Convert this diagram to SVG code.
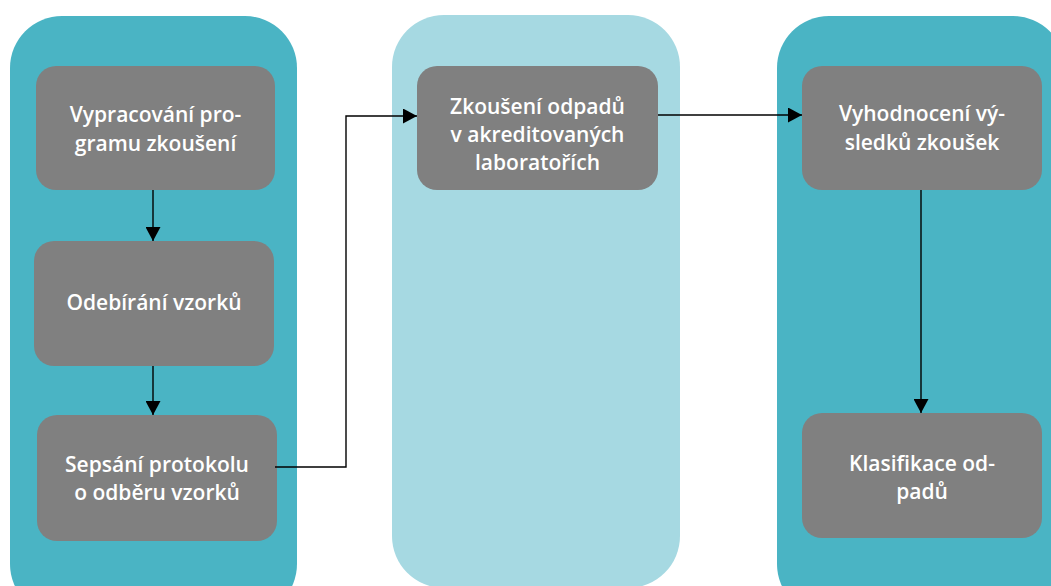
<svg xmlns="http://www.w3.org/2000/svg" width="1051" height="586" viewBox="0 0 1051 586">
<style>
.lane-dark{fill:#4ab4c4}
.lane-light{fill:#a6d9e2}
.node rect{fill:#808080}
.node text{fill:#ffffff;font-family:"Open Sans","Liberation Sans",sans-serif;font-weight:600;font-size:21px;text-anchor:middle}
.conn{fill:none;stroke:#000;stroke-width:1.4}
</style>
<defs>
<marker id="arr" viewBox="0 0 14 15" refX="14" refY="7.5" markerWidth="14" markerHeight="15" markerUnits="userSpaceOnUse" orient="auto">
<path d="M0,0 L14,7.5 L0,15 z" fill="#000"/>
</marker>
</defs>
<g id="lanes">
<rect class="lane-dark" x="10" y="16" width="287" height="600" rx="52"/>
<rect class="lane-light" x="392" y="15" width="288" height="573" rx="52"/>
<rect class="lane-dark" x="777" y="16" width="288" height="600" rx="52"/>
</g>
<g id="n1" class="node">
<rect x="36" y="66" width="239" height="124" rx="20"/>
<text x="155.5" y="122">Vypracování pro-</text>
<text x="155.5" y="151">gramu zkoušení</text>
</g>
<g id="n2" class="node">
<rect x="34" y="241" width="240" height="125" rx="20"/>
<text x="154" y="310">Odebírání vzorků</text>
</g>
<g id="n3" class="node">
<rect x="37" y="415" width="240" height="126" rx="20"/>
<text x="157" y="472">Sepsání protokolu</text>
<text x="157" y="499.5">o odběru vzorků</text>
</g>
<g id="n4" class="node">
<rect x="417" y="66" width="241" height="124" rx="20"/>
<text x="537.5" y="113.5">Zkoušení odpadů</text>
<text x="537.5" y="142">v akreditovaných</text>
<text x="537.5" y="170">laboratořích</text>
</g>
<g id="n5" class="node">
<rect x="802" y="66" width="240" height="124" rx="20"/>
<text x="922" y="121">Vyhodnocení vý-</text>
<text x="922" y="150">sledků zkoušek</text>
</g>
<g id="n6" class="node">
<rect x="802" y="413" width="240" height="125" rx="20"/>
<text x="922" y="471">Klasifikace od-</text>
<text x="922" y="498.5">padů</text>
</g>
<g id="connectors">
<path class="conn" d="M153,190 V241" marker-end="url(#arr)"/>
<path class="conn" d="M153,366 V415" marker-end="url(#arr)"/>
<path class="conn" d="M275,467 H346 V116 H417" marker-end="url(#arr)"/>
<path class="conn" d="M658,115 H802" marker-end="url(#arr)"/>
<path class="conn" d="M921,190 V413" marker-end="url(#arr)"/>
</g>
</svg>
